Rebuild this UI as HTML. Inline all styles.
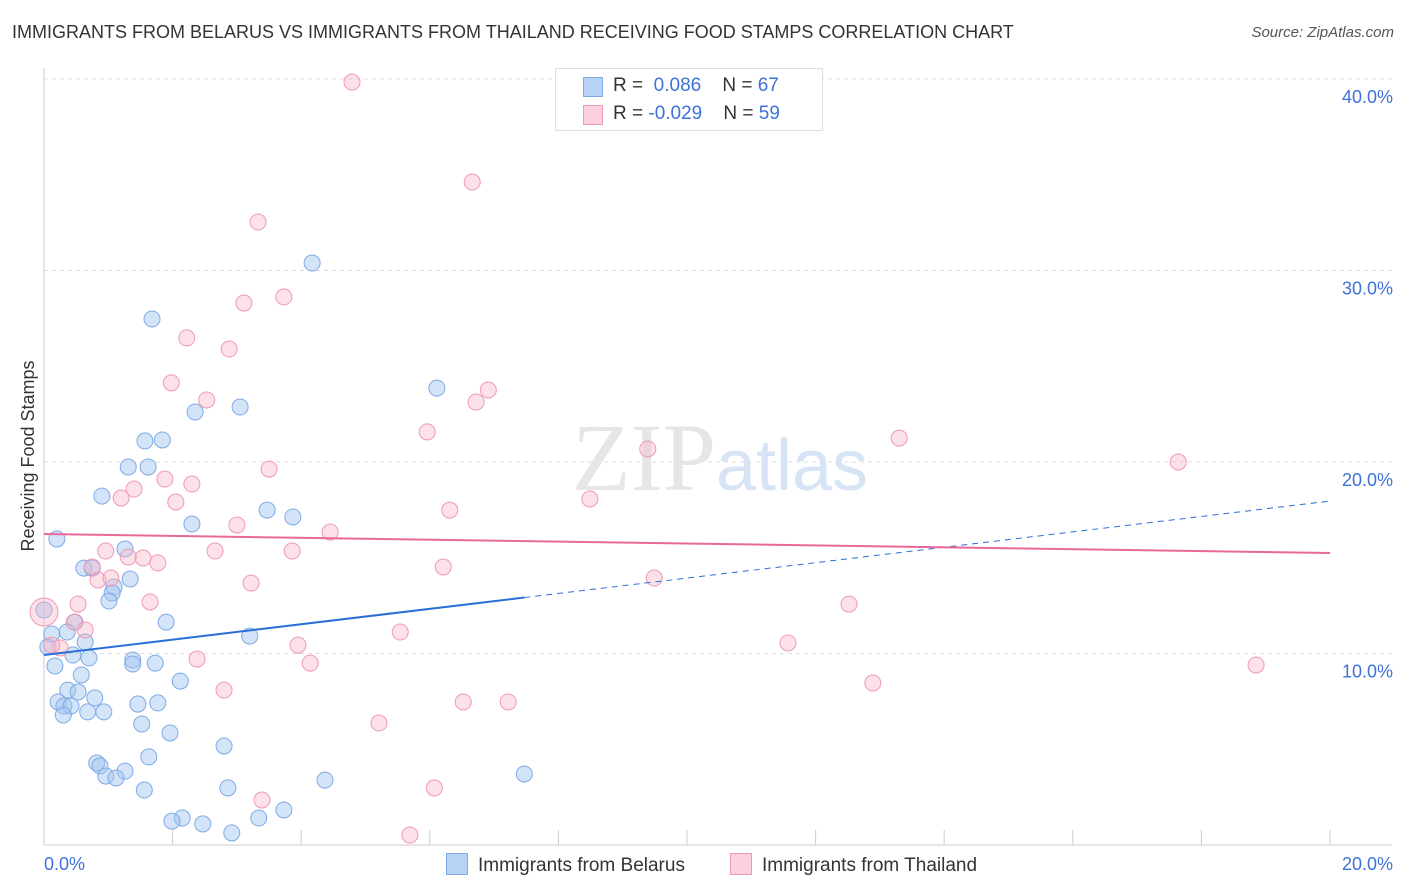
<!DOCTYPE html>
<html><head><meta charset="utf-8"><style>
body{margin:0;background:#fff;font-family:"Liberation Sans",sans-serif;}
#wrap{position:relative;width:1406px;height:892px;overflow:hidden;}
.t{position:absolute;white-space:nowrap;}
</style></head><body>
<div id="wrap">
<div class="t" style="left:12px;top:22px;font-size:18px;color:#333;">IMMIGRANTS FROM BELARUS VS IMMIGRANTS FROM THAILAND RECEIVING FOOD STAMPS CORRELATION CHART</div>
<div class="t" style="right:12px;top:24px;font-size:15px;color:#555;font-style:italic;">Source: ZipAtlas.com</div>
<svg id="svg" width="1406" height="892" style="position:absolute;left:0;top:0"></svg>
</div>
<script>
const xTicks=[0,20];
const yTicks=[10,20,30,40];
const belX=[4.17,1.68,6.11,2.35,3.05,1.57,1.84,1.31,1.62,0.90,2.30,3.47,3.87,0.20,1.26,0.62,0.75,1.34,1.09,1.06,1.01,0.00,1.90,0.48,0.12,0.36,3.20,0.64,0.06,0.45,0.70,1.38,1.38,1.73,0.17,0.58,2.12,0.37,0.53,0.79,0.22,0.31,0.42,1.46,1.77,0.68,0.93,0.30,1.52,1.96,2.80,1.63,0.82,0.87,1.26,0.96,1.12,7.47,4.37,1.56,2.86,2.15,1.99,2.47,3.34,3.73,2.92];
const belY=[30.39,27.47,23.86,22.61,22.87,21.10,21.15,19.74,19.74,18.22,16.76,17.49,17.13,15.98,15.46,14.46,14.46,13.89,13.47,13.16,12.74,12.27,11.64,11.64,11.02,11.12,10.91,10.60,10.34,9.92,9.77,9.66,9.45,9.50,9.35,8.88,8.56,8.09,7.99,7.68,7.47,7.26,7.26,7.36,7.42,6.95,6.95,6.79,6.32,5.85,5.17,4.60,4.28,4.13,3.86,3.60,3.50,3.71,3.39,2.87,2.98,1.41,1.25,1.10,1.41,1.83,0.63];
const thaX=[4.79,6.66,3.33,3.73,3.11,2.22,2.88,1.98,2.53,6.91,6.72,5.96,9.39,13.30,17.64,3.50,1.88,2.30,1.40,1.20,2.05,8.49,6.31,3.00,4.45,0.96,2.66,3.86,1.31,1.54,1.77,0.75,6.21,0.84,1.04,9.49,3.22,1.65,0.53,12.52,0,0.47,0.64,5.54,0.25,3.95,11.57,2.38,4.14,18.85,12.89,2.80,6.52,7.22,5.21,3.39,6.07,5.69,0.12];
const thaY=[39.84,34.62,32.53,28.62,28.30,26.48,25.90,24.13,23.24,23.76,23.13,21.57,20.68,21.25,20.00,19.63,19.11,18.85,18.59,18.12,17.91,18.07,17.49,16.71,16.34,15.35,15.35,15.35,15.04,14.99,14.73,14.52,14.52,13.84,13.94,13.94,13.68,12.69,12.58,12.58,12.17,11.64,11.23,11.12,10.29,10.44,10.55,9.71,9.50,9.40,8.46,8.09,7.47,7.47,6.37,2.35,2.98,0.52,10.44];
const belTrend=[9.92,17.96]; // value at x=0, x=20
const thaTrend=[16.24,15.25];
const X0=44,X1=1330,Y0=845,YS=19.15;
const sx=v=>X0+(X1-X0)*v/20, sy=v=>Y0-v*YS;
const svg=document.getElementById('svg');const NS='http://www.w3.org/2000/svg';
function mk(t,a,p){const e=document.createElementNS(NS,t);for(const k in a)e.setAttribute(k,a[k]);(p||svg).appendChild(e);return e;}
// grid
yTicks.forEach(v=>{
const g=mk('line',{x1:44,x2:1392,y1:sy(v),y2:sy(v),stroke:'#ddd','stroke-dasharray':'4,4'});


const t=mk('text',{x:1393,y:sy(v)+24,'text-anchor':'end','font-size':18,fill:'#3d72d9','font-family':'Liberation Sans'});
t.textContent=v.toFixed(1)+'%';


});
const ax=mk('line',{x1:44,x2:44,y1:68,y2:845,stroke:'#ccc'});


const bx=mk('line',{x1:44,x2:1392,y1:845,y2:845,stroke:'#ccc'});


for(let i=0;i<=10;i++){const x=sx(i*2);const tk=mk('line',{x1:x,x2:x,y1:830,y2:845,stroke:'#ccc'});

}
xTicks.forEach((v,i)=>{const t=mk('text',{x:i?1393:44,y:870,'text-anchor':i?'end':'start','font-size':18,fill:'#3d72d9','font-family':'Liberation Sans'});t.textContent=v.toFixed(1)+'%';

});
// watermark
const wm=mk('text',{x:720,y:490,'text-anchor':'middle','font-size':96,fill:'#e6e6e6','font-family':'Liberation Serif'});
wm.innerHTML='ZIP<tspan fill="#d6e4f5" font-family="Liberation Sans" font-size="72">atlas</tspan>';


// y title
const yt=mk('text',{x:34,y:456,'text-anchor':'middle','font-size':18,fill:'#333',transform:'rotate(-90 34 456)','font-family':'Liberation Sans'});yt.textContent='Receiving Food Stamps';


// points
function pts(xs,ys,fill,stroke,name){xs.forEach((x,i)=>{const c=mk('circle',{cx:sx(x),cy:sy(ys[i]),r:(x===0&&name==='thailand-point')?14:8,fill:fill,stroke:stroke,'stroke-width':1});

});}
pts(belX,belY,'rgba(160,196,240,0.45)','#7eaae6','belarus-point');
pts(thaX,thaY,'rgba(248,180,200,0.4)','#ee9ab4','thailand-point');
// trends
const bxEnd=Math.max(...belX);
const l1=mk('line',{x1:sx(0),y1:sy(belTrend[0]),x2:sx(bxEnd),y2:sy(belTrend[0]+(belTrend[1]-belTrend[0])*bxEnd/20),stroke:'#2a6fd6','stroke-width':2});


const l2=mk('line',{x1:sx(bxEnd),y1:sy(belTrend[0]+(belTrend[1]-belTrend[0])*bxEnd/20),x2:sx(20),y2:sy(belTrend[1]),stroke:'#2a6fd6','stroke-width':1,'stroke-dasharray':'6,5'});


const l3=mk('line',{x1:sx(0),y1:sy(thaTrend[0]),x2:sx(20),y2:sy(thaTrend[1]),stroke:'#e8689a','stroke-width':2});


</script>
<div class="t" style="left:555px;top:68px;width:266px;height:61px;border:1px solid #ddd;background:#fff;">
 <div style="position:absolute;left:27px;top:8px;width:18px;height:18px;background:#b8d2f5;border:1px solid #7eaae6;"></div>
 <div style="position:absolute;left:27px;top:36px;width:18px;height:18px;background:#fcd0de;border:1px solid #ee9ab4;"></div>
 <div class="t" style="left:57px;top:6px;font-size:19px;color:#333;">R = &nbsp;<span style="color:#3d72d9">0.086</span>&nbsp;&nbsp;&nbsp; N = <span style="color:#3d72d9">67</span></div>
 <div class="t" style="left:57px;top:34px;font-size:19px;color:#333;">R = <span style="color:#3d72d9">-0.029</span>&nbsp;&nbsp;&nbsp; N = <span style="color:#3d72d9">59</span></div>
</div>
<div class="t" style="left:446px;top:853px;font-size:19px;color:#333;"><span style="display:inline-block;width:20px;height:20px;background:#b8d2f5;border:1px solid #7eaae6;vertical-align:-4px;margin-right:10px;"></span>Immigrants from Belarus</div>
<div class="t" style="left:730px;top:853px;font-size:19px;color:#333;"><span style="display:inline-block;width:20px;height:20px;background:#fcd0de;border:1px solid #ee9ab4;vertical-align:-4px;margin-right:10px;"></span>Immigrants from Thailand</div>
</body></html>
